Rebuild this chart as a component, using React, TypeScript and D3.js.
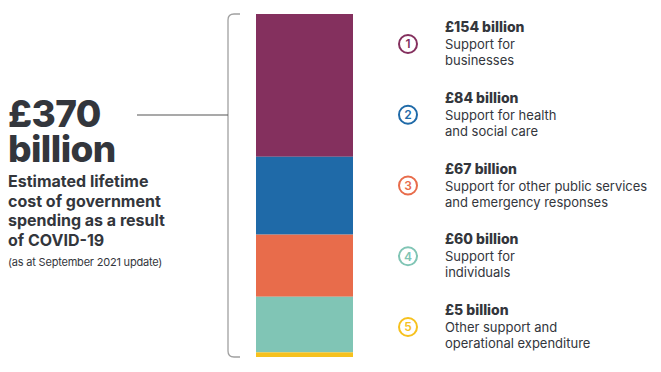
import * as d3 from "d3";

const categories = ["1", "2", "3", "4", "5"];
const values = [154, 84, 67, 60, 5];
const amountLabels = ["£154 billion", "£84 billion", "£67 billion", "£60 billion", "£5 billion"];
const descriptions = [
  ["Support for", "businesses"],
  ["Support for health", "and social care"],
  ["Support for other public services", "and emergency responses"],
  ["Support for", "individuals"],
  ["Other support and", "operational expenditure"],
];
const colors = ["#84305e", "#1f6aa8", "#e86c4b", "#80c5b5", "#f6c11e"];
const totalLabel = ["£370", "billion"];
const subtitle = ["Estimated lifetime", "cost of government", "spending as a result", "of COVID-19"];
const note = "(as at September 2021 update)";

const W = 661;
const H = 372;
const TEXT = "#33363c";
const FONT = "Inter, 'Open Sans', sans-serif";

export default function App() {
  const total = d3.sum(values);
  const y = d3.scaleLinear().domain([0, total]).range([14, 357]);
  const stacks = d3.cumsum(values);
  const starts = values.map((v, i) => stacks[i] - v);
  const legendY = d3.scalePoint<string>().domain(categories).range([44, 327]);

  const barX = 256;
  const barW = 97;
  const bx = 228;

  return (
    <svg
      width={W}
      height={H}
      style={{ position: "absolute", left: 0, top: 0, background: "#fff" }}
      fontFamily={FONT}
    >
      {/* bracket */}
      <path
        d={`M${bx + 12},${y(0)} H${bx + 6} Q${bx},${y(0)} ${bx},${y(0) + 6} V${y(total) - 6} Q${bx},${y(total)} ${bx + 6},${y(total)} H${bx + 12}`}
        fill="none"
        stroke="#a0a0a0"
        strokeWidth={1.3}
      />
      <line x1={137} x2={bx} y1={115} y2={115} stroke="#555" strokeWidth={1.2} />

      {/* stacked bar */}
      {values.map((v, i) => (
        <rect
          key={categories[i]}
          x={barX}
          width={barW}
          y={y(starts[i])}
          height={y(stacks[i]) - y(starts[i])}
          fill={colors[i]}
        />
      ))}

      {/* left headline */}
      <text x={8} y={127} fontSize={37} fontWeight={800} fill={TEXT} letterSpacing={-0.6}>
        <tspan x={8} y={127}>{totalLabel[0]}</tspan>
        <tspan x={8} y={162}>{totalLabel[1]}</tspan>
      </text>
      {subtitle.map((s, i) => (
        <text key={s} x={8} y={187 + i * 19.5} fontSize={16} fontWeight={700} fill={TEXT}>
          {s}
        </text>
      ))}
      <text x={8} y={266} fontSize={11} fill={TEXT} letterSpacing={-0.2}>
        {note}
      </text>

      {/* legend */}
      {categories.map((c, i) => {
        const cy = legendY(c) as number;
        return (
          <g key={c}>
            <circle cx={408} cy={cy} r={9} fill="none" stroke={colors[i]} strokeWidth={2} />
            <text
              x={408}
              y={cy}
              dy="0.36em"
              textAnchor="middle"
              fontSize={12}
              fontWeight={600}
              fill={colors[i]}
            >
              {c}
            </text>
            <text x={445} y={cy - 12} fontSize={14} fontWeight={800} fill={TEXT}>
              {amountLabels[i]}
            </text>
            {descriptions[i].map((d, j) => (
              <text key={d} x={445} y={cy + 5 + j * 16} fontSize={13} fill={TEXT}>
                {d}
              </text>
            ))}
          </g>
        );
      })}
    </svg>
  );
}
